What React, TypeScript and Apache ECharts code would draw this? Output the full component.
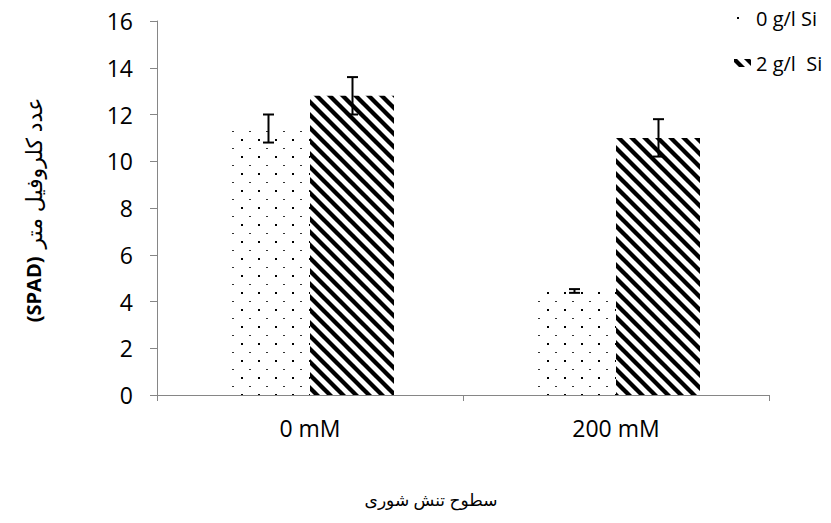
import React, { useEffect, useRef } from 'react';
import * as echarts from 'echarts';

const categories = ['0 mM', '200 mM'];
const seriesNames = ['0 g/l Si', '2 g/l  Si'];
const values0 = [11.4, 4.45];
const values2 = [12.8, 11.0];
const err0 = [0.6, 0.08];
const err2 = [0.8, 0.8];
const yMin = 0;
const yMax = 16;
const yInterval = 2;
const xTitle = 'سطوح تنش شوری';
const yTitleArabic = 'عدد کلروفیل متر';
const yTitleLatin = '(SPAD)';

const FONT = "'Open Sans', 'DejaVu Sans', sans-serif";
const BAR_W = 84;
const FS = 23;

function makeDots(): HTMLCanvasElement {
  const c = document.createElement('canvas');
  c.width = 17;
  c.height = 17;
  const g = c.getContext('2d')!;
  g.fillStyle = '#ffffff';
  g.fillRect(0, 0, 17, 17);
  g.fillStyle = '#000000';
  g.fillRect(3, 3, 2, 2);
  g.fillStyle = '#333333';
  g.fillRect(11, 12, 2, 1);
  return c;
}

function makeStripes(): HTMLCanvasElement {
  const s = 13;
  const c = document.createElement('canvas');
  c.width = s;
  c.height = s;
  const g = c.getContext('2d')!;
  g.fillStyle = '#ffffff';
  g.fillRect(0, 0, s, s);
  g.strokeStyle = '#000000';
  g.lineWidth = 4.3;
  for (let k = -s; k <= s; k += s) {
    g.beginPath();
    g.moveTo(k - 3, -3);
    g.lineTo(k + s + 3, s + 3);
    g.stroke();
  }
  return c;
}

export default function App() {
  const ref = useRef<HTMLDivElement>(null);
  useEffect(() => {
    if (!ref.current) return;
    const chart = echarts.init(ref.current, undefined, { renderer: 'svg' });
    const dots = makeDots();
    const stripes = makeStripes();
    const dotColor: any = { image: dots, repeat: 'repeat', imageWidth: dots.width, imageHeight: dots.height };
    const stripeColor: any = { image: stripes, repeat: 'repeat', imageWidth: stripes.width, imageHeight: stripes.height };

    const errorSeries = (vals: number[], errs: number[], offset: number) => ({
      type: 'custom',
      silent: true,
      z: 10,
      encode: { x: 0, y: 1 },
      data: categories.map((_, i) => [i, vals[i], errs[i]]),
      renderItem: (params: any, api: any) => {
        const cat = api.value(0);
        const v = api.value(1);
        const e = api.value(2);
        const top = api.coord([cat, v + e]);
        const bot = api.coord([cat, v - e]);
        const x = Math.round(top[0] + offset) + 0.5;
        const cap = 5.5;
        const st = { stroke: '#000', lineWidth: 2 };
        return {
          type: 'group',
          children: [
            { type: 'line', shape: { x1: x, y1: top[1], x2: x, y2: bot[1] }, style: st },
            { type: 'line', shape: { x1: x - cap, y1: top[1], x2: x + cap, y2: top[1] }, style: st },
            { type: 'line', shape: { x1: x - cap, y1: bot[1], x2: x + cap, y2: bot[1] }, style: st },
          ],
        };
      },
    });

    chart.setOption({
      animation: false,
      backgroundColor: '#ffffff',
      textStyle: { fontFamily: FONT },
      grid: { left: 157, top: 21, right: 62, bottom: 128, containLabel: false },
      legend: {
        data: seriesNames,
        orient: 'vertical',
        left: 729,
        top: 3,
        itemGap: 25,
        itemWidth: 17,
        itemHeight: 8,
        icon: 'rect',
        textStyle: { fontSize: 20, lineHeight: 20, color: '#000', fontFamily: FONT },
      },
      xAxis: {
        type: 'category',
        data: categories,
        boundaryGap: true,
        axisLine: { show: true, lineStyle: { color: '#868686', width: 1 } },
        axisTick: { show: true, length: 6, alignWithLabel: false, lineStyle: { color: '#868686' } },
        axisLabel: { fontSize: FS, color: '#000', margin: 21, fontFamily: FONT },
        splitLine: { show: false },
      },
      yAxis: {
        type: 'value',
        min: yMin,
        max: yMax,
        interval: yInterval,
        axisLine: { show: true, lineStyle: { color: '#868686', width: 1 } },
        axisTick: { show: true, length: 7, lineStyle: { color: '#868686' } },
        axisLabel: { fontSize: FS, color: '#000', margin: 24, fontFamily: FONT },
        splitLine: { show: false },
      },
      series: [
        {
          name: seriesNames[0],
          type: 'bar',
          barWidth: BAR_W,
          barGap: '0%',
          data: values0,
          itemStyle: { color: dotColor },
        },
        {
          name: seriesNames[1],
          type: 'bar',
          barWidth: BAR_W,
          barGap: '0%',
          data: values2,
          itemStyle: { color: stripeColor },
        },
        errorSeries(values0, err0, -BAR_W / 2),
        errorSeries(values2, err2, BAR_W / 2),
      ],
      graphic: [
        {
          type: 'text',
          x: 431,
          y: 499,
          style: {
            text: xTitle,
            fontSize: 17,
            fontFamily: FONT,
            fill: '#000',
            align: 'center',
            verticalAlign: 'middle',
          },
        },
        {
          type: 'text',
          x: 33,
          y: 210,
          rotation: Math.PI / 2,
          style: {
            text: '{b|' + yTitleLatin + '}{n|' + yTitleArabic + '}',
            align: 'center',
            verticalAlign: 'middle',
            rich: {
              b: { fontSize: 20, fontWeight: 'bold', fontFamily: FONT, fill: '#000', padding: [0, 8, 0, 0] },
              n: { fontSize: 22, fontFamily: FONT, fill: '#000' },
            },
          },
        },
      ],
    });
    return () => chart.dispose();
  }, []);
  return <div ref={ref} style={{ width: 831, height: 523, margin: -8 }} />;
}
